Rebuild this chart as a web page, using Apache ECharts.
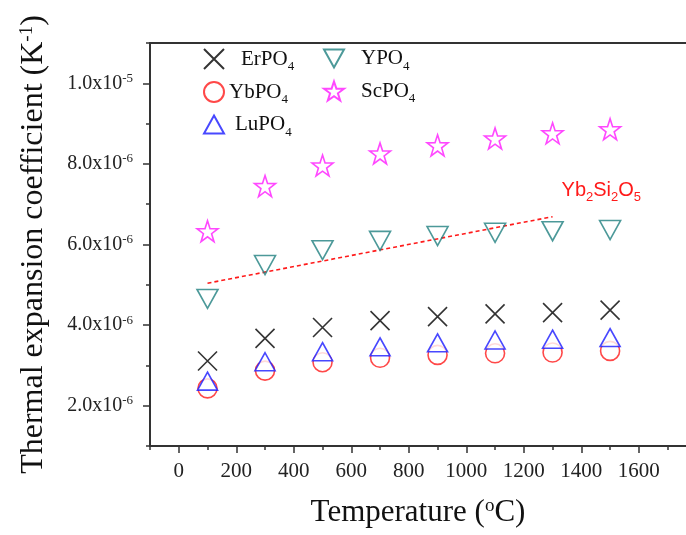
<!DOCTYPE html>
<html>
<head>
<meta charset="utf-8">
<script src="https://cdn.jsdelivr.net/npm/echarts@6/dist/echarts.min.js"></script>
<style>
html,body{margin:0;padding:0;background:#fff;}
#chart{width:686px;height:535px;}
</style>
</head>
<body>
<div id="chart"></div>
<script>
// Temperature (°C)
const temps = [100, 300, 500, 700, 900, 1100, 1300, 1500];
// Thermal expansion coefficient, in units of 1e-6 K^-1
const erpo4 = [3.11, 3.67, 3.94, 4.11, 4.21, 4.28, 4.31, 4.37];
const ybpo4 = [2.43, 2.87, 3.08, 3.19, 3.26, 3.30, 3.32, 3.36];
const lupo4 = [2.61, 3.09, 3.34, 3.46, 3.56, 3.63, 3.65, 3.69];
const ypo4  = [4.65, 5.49, 5.86, 6.09, 6.21, 6.29, 6.33, 6.36];
const scpo4 = [6.33, 7.45, 7.96, 8.26, 8.46, 8.63, 8.76, 8.86];
// Yb2Si2O5 reference line
const ybsTemps = [100, 1300];
const ybsVals  = [5.04, 6.69];

// axis ticks
const xMajor = [0, 200, 400, 600, 800, 1000, 1200, 1400, 1600];
const xMinor = [-100, 100, 300, 500, 700, 900, 1100, 1300, 1500, 1700];
const yMajor = [2, 4, 6, 8, 10];
const yMinor = [1, 3, 5, 7, 9, 11];

const serif = '"Liberation Serif", "Times New Roman", serif';
const pair = (xs, ys) => xs.map((x, i) => [x, ys[i]]);

// star path
function starPath() {
  let d = '';
  for (let i = 0; i < 10; i++) {
    const a = (-90 + i * 36) * Math.PI / 180;
    const r = i % 2 === 0 ? 10 : 3.9;
    const x = (10 + r * Math.cos(a)).toFixed(2), y = (10 + r * Math.sin(a)).toFixed(2);
    d += (i === 0 ? 'M' : 'L') + x + ',' + y;
  }
  return 'path://' + d + 'Z';
}
const crossSym = 'path://M0,0L20,20M20,0L0,20';
const upTri = 'path://M10,0L20,18L0,18Z';
const downTri = 'path://M0,0L20,0L10,18Z';

const chart = echarts.init(document.getElementById('chart'), null, {renderer: 'canvas'});

const legendRich = {
  n: {fontFamily: serif, fontSize: 21, color: '#111'},
  s: {fontFamily: serif, fontSize: 13, color: '#111', verticalAlign: 'bottom', padding: [16, 0, 0, 0]}
};
const legendFmt = name => '{n|' + name.slice(0, -1) + '}{s|' + name.slice(-1) + '}';
const legItem = (name, pad) => ({name: name, textStyle: {padding: [0, 0, 0, pad]}});

const yLabelRich = {
  m: {fontFamily: serif, fontSize: 20, color: '#222'},
  e: {fontFamily: serif, fontSize: 13, color: '#222', verticalAlign: 'top', padding: [0, 0, 10, 0]}
};

const axisLineStyle = {color: '#333', width: 2};
const X_MIN = -100, X_MAX = 1764;

const option = {
  animation: false,
  backgroundColor: '#fff',
  grid: {left: 150, top: 43, right: 0, bottom: 89, outerBoundsMode: 'none', containLabel: false},
  legend: [
    {
      orient: 'vertical', left: 203, top: 48, padding: 0, itemWidth: 20, itemHeight: 20, itemGap: 7.5,
      data: [legItem('ErPO4', 12), legItem('YbPO4', 0), legItem('LuPO4', 6)],
      formatter: legendFmt,
      textStyle: {rich: legendRich}
    },
    {
      orient: 'vertical', left: 323, top: 48, padding: 0, itemWidth: 20, itemHeight: 20, itemGap: 7.5,
      data: [legItem('YPO4', 12), legItem('ScPO4', 12)],
      formatter: legendFmt,
      textStyle: {rich: legendRich}
    }
  ],
  xAxis: [
    {
      type: 'value', min: X_MIN, max: X_MAX, position: 'bottom',
      axisLine: {show: true, onZero: false, lineStyle: axisLineStyle},
      axisTick: {show: true, inside: false, length: 7, customValues: xMajor, lineStyle: {color: '#333', width: 1.5}},
      axisLabel: {show: true, customValues: xMajor, margin: 15, fontFamily: serif, fontSize: 21, color: '#222',
        formatter: v => String(v)},
      splitLine: {show: false},
      name: 'Temperature ({sup|o}C)',
      nameLocation: 'middle', nameGap: 51,
      nameTextStyle: {fontFamily: serif, fontSize: 31, color: '#111',
        rich: {sup: {fontFamily: serif, fontSize: 19, color: '#111', verticalAlign: 'top', padding: [0, 0, 12, 0]}}}
    },
    {
      type: 'value', min: X_MIN, max: X_MAX, position: 'bottom',
      axisLine: {show: false, onZero: false},
      axisTick: {show: true, inside: false, length: 4, customValues: xMinor, lineStyle: {color: '#333', width: 1.5}},
      axisLabel: {show: false},
      splitLine: {show: false}
    },
    {
      type: 'value', min: X_MIN, max: X_MAX, position: 'top',
      axisLine: {show: true, onZero: false, lineStyle: axisLineStyle},
      axisTick: {show: false}, axisLabel: {show: false}, splitLine: {show: false}
    }
  ],
  yAxis: [
    {
      type: 'value', min: 1, max: 11, position: 'left',
      axisLine: {show: true, onZero: false, lineStyle: axisLineStyle},
      axisTick: {show: true, inside: false, length: 7, customValues: yMajor, lineStyle: {color: '#333', width: 1.5}},
      axisLabel: {
        show: true, customValues: yMajor, margin: 17,
        formatter: v => v === 10 ? '{m|1.0x10}{e|-5}' : '{m|' + v.toFixed(1) + 'x10}{e|-6}',
        rich: yLabelRich
      },
      splitLine: {show: false},
      name: '{t|Thermal expansion coefficient (K}{e|-1}{t|)}',
      nameLocation: 'middle', nameGap: 100, nameRotate: 90,
      nameTextStyle: {
        rich: {
          t: {fontFamily: serif, fontSize: 32, color: '#111'},
          e: {fontFamily: serif, fontSize: 19, color: '#111', verticalAlign: 'top', padding: [0, 0, 13, 0]}
        }
      }
    },
    {
      type: 'value', min: 1, max: 11, position: 'left',
      axisLine: {show: false, onZero: false},
      axisTick: {show: true, inside: false, length: 4, customValues: yMinor, lineStyle: {color: '#333', width: 1.5}},
      axisLabel: {show: false},
      splitLine: {show: false}
    }
  ],
  series: [
    {
      name: 'Yb2Si2O5', type: 'line', xAxisIndex: 0, yAxisIndex: 0,
      data: pair(ybsTemps, ybsVals), showSymbol: false, symbol: 'none',
      lineStyle: {color: '#ff1a1a', width: 1.6, type: [4, 3]},
      endLabel: {
        show: true, align: 'left', offset: [1, -26],
        formatter: () => '{a|Yb}{b|2}{a|Si}{b|2}{a|O}{b|5}',
        rich: {
          a: {fontFamily: '"Liberation Sans", Arial, sans-serif', fontSize: 20, color: '#ff1a1a'},
          b: {fontFamily: '"Liberation Sans", Arial, sans-serif', fontSize: 13, color: '#ff1a1a', verticalAlign: 'bottom', padding: [14, 0, 0, 0]}
        }
      },
      z: 1
    },
    {
      name: 'ErPO4', type: 'scatter', data: pair(temps, erpo4),
      symbol: crossSym, symbolSize: 19,
      itemStyle: {color: 'transparent', borderColor: '#000', borderWidth: 1.6}, z: 3
    },
    {
      name: 'YbPO4', type: 'scatter', data: pair(temps, ybpo4),
      symbol: 'circle', symbolSize: 19,
      itemStyle: {color: '#fff', borderColor: '#ff1a1a', borderWidth: 1.6}, z: 3
    },
    {
      name: 'LuPO4', type: 'scatter', data: pair(temps, lupo4),
      symbol: upTri, symbolSize: [20, 18],
      itemStyle: {color: '#fff', borderColor: '#1a1aff', borderWidth: 1.6}, z: 4
    },
    {
      name: 'YPO4', type: 'scatter', data: pair(temps, ypo4),
      symbol: downTri, symbolSize: [21, 19],
      itemStyle: {color: 'transparent', borderColor: '#1f8080', borderWidth: 1.6}, z: 4
    },
    {
      name: 'ScPO4', type: 'scatter', data: pair(temps, scpo4),
      symbol: starPath(), symbolSize: 21,
      itemStyle: {color: 'transparent', borderColor: '#ff1aff', borderWidth: 1.6}, z: 4
    }
  ]
};
chart.setOption(option);
</script>
</body>
</html>
